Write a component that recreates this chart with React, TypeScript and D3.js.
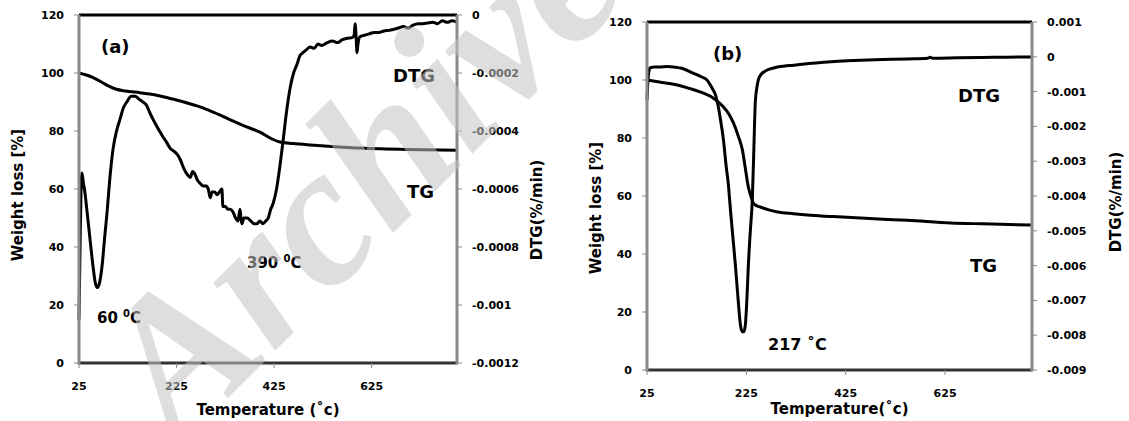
import * as d3 from 'd3';
import React from 'react';

// Temperature axis (shared by both panels)
const xTicks = [25, 225, 425, 625];
const weightTicks = [0, 20, 40, 60, 80, 100, 120];

// Panel (a): DTG right-axis ticks
const dtgTicksA = [0, -0.0002, -0.0004, -0.0006, -0.0008, -0.001, -0.0012];
const dtgTickLabelsA = ['0', '-0.0002', '-0.0004', '-0.0006', '-0.0008', '-0.001', '-0.0012'];

// Panel (b): DTG right-axis ticks
const dtgTicksB = [0.001, 0, -0.001, -0.002, -0.003, -0.004, -0.005, -0.006, -0.007, -0.008, -0.009];
const dtgTickLabelsB = ['0.001', '0', '-0.001', '-0.002', '-0.003', '-0.004', '-0.005', '-0.006', '-0.007', '-0.008', '-0.009'];

// (a) TG curve: [temperature, weight %]
const tgA: [number, number][] = [
  [25, 100], [40, 99.3], [55, 98.3], [70, 97], [82, 95.8], [100, 94.5], [120, 93.8],
  [150, 93.2], [180, 92.5], [210, 91.3], [240, 90], [273, 88.3], [300, 86.5], [330, 84.3],
  [360, 82], [396, 79.6], [420, 77.3], [437, 76.2], [464, 75.7], [500, 75.2], [550, 74.6],
  [601, 74.1], [700, 73.6], [800, 73.4],
];

// (a) DTG curve: [temperature, %/min]
const dtgA: [number, number][] = [
  [25, -0.00105], [27, -0.00082], [29, -0.00062], [31, -0.000545], [34, -0.00058], [37, -0.00061],
  [41, -0.00067], [48, -0.00078], [54, -0.00087], [58, -0.00092], [62, -0.00094], [66, -0.00093],
  [72, -0.00087], [78, -0.00076], [82, -0.00069], [89, -0.00055], [95, -0.00046], [102, -0.0004],
  [109, -0.00036], [116, -0.00032], [123, -0.0003], [132, -0.00028], [140, -0.00028], [148, -0.00029],
  [156, -0.0003], [163, -0.00031], [171, -0.00034], [180, -0.00037], [190, -0.0004], [197, -0.00042],
  [205, -0.00044], [212, -0.00046], [220, -0.00047], [226, -0.00048], [233, -0.0005], [240, -0.00053],
  [247, -0.00055], [253, -0.00056], [258, -0.00054], [263, -0.00055], [268, -0.00057], [273, -0.00058],
  [280, -0.00059], [286, -0.00059], [290, -0.0006], [294, -0.00063], [298, -0.00061], [303, -0.00061],
  [308, -0.00062], [313, -0.00061], [318, -0.0006], [320, -0.00066], [325, -0.00066], [330, -0.00067],
  [335, -0.00067], [341, -0.00068], [346, -0.0007], [351, -0.00071], [355, -0.00067], [357, -0.0007],
  [359, -0.00072], [363, -0.0007], [370, -0.0007], [377, -0.00071], [384, -0.00072], [390, -0.00072],
  [396, -0.00071], [402, -0.00072], [408, -0.00071], [413, -0.0007], [418, -0.00067], [423, -0.00065],
  [430, -0.0006], [437, -0.00052], [443, -0.00044], [450, -0.00034], [458, -0.00025], [465, -0.0002],
  [472, -0.00017], [478, -0.00014], [484, -0.00013], [491, -0.00012], [499, -0.00011], [507, -0.000115],
  [515, -0.0001], [522, -0.000105], [534, -0.000095], [545, -0.00009], [555, -0.000095], [565, -0.000085],
  [575, -0.00008], [585, -0.000078], [589, -0.00007], [591, -0.00003], [593, -0.00007], [595, -0.00013],
  [597, -0.0001], [601, -0.000075], [610, -0.00007], [620, -0.000065], [630, -0.00006], [640, -0.00006],
  [650, -0.000055], [660, -0.000053], [669, -0.00005], [680, -0.000045], [690, -0.00004], [700, -0.000045],
  [710, -0.000035], [720, -0.00003], [730, -0.00003], [739, -0.000028], [750, -0.000025], [760, -0.00003],
  [770, -0.00002], [780, -0.000025], [790, -0.00002], [800, -0.000025],
];

// (b) TG curve
const tgB: [number, number][] = [
  [25, 100], [50, 99.3], [86, 98.3], [110, 97.1], [132, 95.9], [158, 93.8], [170, 92.2],
  [179, 90.7], [190, 88.2], [199, 85.2], [208, 81], [217, 75.9], [223, 69.5], [229, 63.1],
  [234, 60], [239, 57.6], [245, 56.7], [253, 56.2], [270, 55.2], [288, 54.5], [320, 53.9],
  [354, 53.4], [400, 52.9], [455, 52.4], [500, 52], [550, 51.6], [637, 50.7], [700, 50.4], [800, 50],
];

// (b) DTG curve
const dtgB: [number, number][] = [
  [25, -0.00125], [26, -0.0009], [28, -0.0005], [31, -0.00032], [40, -0.00029], [51, -0.00029],
  [65, -0.00028], [78, -0.00029], [95, -0.00033], [118, -0.00047], [135, -0.00058], [146, -0.00067],
  [152, -0.0008], [158, -0.00095], [163, -0.0011], [168, -0.0014], [174, -0.0019], [179, -0.0024],
  [184, -0.0031], [189, -0.0037], [193, -0.0044], [198, -0.0052], [203, -0.006], [208, -0.0069],
  [213, -0.0077], [217, -0.0079], [220, -0.0079], [223, -0.0077], [226, -0.007], [229, -0.006],
  [233, -0.005], [237, -0.0041], [240, -0.0027], [243, -0.0013], [246, -0.0009], [249, -0.00067],
  [255, -0.0005], [262, -0.00042], [267, -0.00038], [280, -0.00032], [300, -0.00027], [320, -0.00024],
  [350, -0.00019], [380, -0.00016], [410, -0.00013], [455, -0.0001], [500, -0.00008], [550, -0.00006],
  [590, -0.00004], [595, -0.00001], [600, -0.00004], [650, -0.00003], [700, -0.00002], [750, -0.00001],
  [800, -0.000005],
];

const tickFont = 'DejaVu Sans, Verdana, sans-serif';

type PanelProps = {
  box: { left: number; top: number; right: number; bottom: number };
  dtgDomain: [number, number];
  dtgTicks: number[];
  dtgLabels: string[];
  tg: [number, number][];
  dtg: [number, number][];
  xTitle: string;
  leftTitleX: number;
  rightTitleX: number;
  titleY: number;
  leftTitleCy: number;
  rightTitleCy: number;
  children?: React.ReactNode;
};

const Panel = ({ box, dtgDomain, dtgTicks, dtgLabels, tg, dtg, xTitle, leftTitleX, rightTitleX, titleY, leftTitleCy, rightTitleCy, children }: PanelProps) => {
  const x = d3.scaleLinear().domain([25, 800]).range([box.left, box.right]);
  const yW = d3.scaleLinear().domain([0, 120]).range([box.bottom, box.top]);
  const yD = d3.scaleLinear().domain(dtgDomain).range([box.bottom, box.top]);

  const tgLine = d3.line<[number, number]>().x((d) => x(d[0])).y((d) => yW(d[1])).curve(d3.curveMonotoneX);
  const dtgLine = d3.line<[number, number]>().x((d) => x(d[0])).y((d) => yD(d[1])).curve(d3.curveMonotoneX);

  const axisGray = '#8a8a8a';

  return (
    <g>
      {/* curves */}
      <path d={tgLine(tg) || ''} fill="none" stroke="#000" strokeWidth={3} strokeLinejoin="round" />
      <path d={dtgLine(dtg) || ''} fill="none" stroke="#000" strokeWidth={3} strokeLinejoin="round" />

      {/* frame */}
      <line x1={box.left} x2={box.right} y1={box.top} y2={box.top} stroke="#000" strokeWidth={3} />
      <line x1={box.left} x2={box.right} y1={box.bottom} y2={box.bottom} stroke="#333" strokeWidth={3} />
      <line x1={box.left} x2={box.left} y1={box.top} y2={box.bottom + 1.5} stroke={axisGray} strokeWidth={3} />
      <line x1={box.right} x2={box.right} y1={box.top} y2={box.bottom + 1.5} stroke={axisGray} strokeWidth={3} />

      {/* left axis */}
      {weightTicks.map((t) => (
        <g key={'w' + t}>
          <line x1={box.left - 5} x2={box.left} y1={yW(t)} y2={yW(t)} stroke={axisGray} strokeWidth={1} />
          <text x={box.left - 15} y={yW(t) + 4} textAnchor="end" fontFamily={tickFont} fontWeight="bold" fontSize={11}>{t}</text>
        </g>
      ))}

      {/* right axis */}
      {dtgTicks.map((t, i) => (
        <g key={'d' + i}>
          <line x1={box.right} x2={box.right + 5} y1={yD(t)} y2={yD(t)} stroke={axisGray} strokeWidth={1} />
          <text x={box.right + 15} y={yD(t) + 4} fontFamily={tickFont} fontWeight="bold" fontSize={11}>{dtgLabels[i]}</text>
        </g>
      ))}

      {/* bottom axis */}
      {xTicks.map((t) => (
        <g key={'x' + t}>
          <line x1={x(t)} x2={x(t)} y1={box.bottom} y2={box.bottom + 5} stroke={axisGray} strokeWidth={1} />
          <text x={x(t)} y={box.bottom + 27} textAnchor="middle" fontFamily={tickFont} fontWeight="bold" fontSize={11}>{t}</text>
        </g>
      ))}

      {/* axis titles */}
      <text x={(box.left + box.right) / 2} y={titleY} textAnchor="middle" fontFamily={tickFont} fontWeight="bold" fontSize={15}>{xTitle}</text>
      <text transform={`translate(${leftTitleX},${leftTitleCy}) rotate(-90)`} textAnchor="middle" fontFamily={tickFont} fontWeight="bold" fontSize={15}>Weight loss [%]</text>
      <text transform={`translate(${rightTitleX},${rightTitleCy}) rotate(-90)`} textAnchor="middle" fontFamily={tickFont} fontWeight="bold" fontSize={15}>DTG(%/min)</text>

      {children}
    </g>
  );
};

const annot = { fontFamily: tickFont, fontWeight: 'bold' as const };

export default function App() {
  return (
    <svg width={1129} height={421} style={{ position: 'absolute', left: 0, top: 0, background: '#fff' }}>
      <Panel
        box={{ left: 79, top: 15, right: 457, bottom: 363 }}
        dtgDomain={[-0.0012, 0]}
        dtgTicks={dtgTicksA}
        dtgLabels={dtgTickLabelsA}
        tg={tgA}
        dtg={dtgA}
        xTitle="Temperature (˚c)"
        leftTitleX={23}
        rightTitleX={542}
        titleY={415}
        leftTitleCy={195}
        rightTitleCy={210}
      >
        <text x={101} y={53} {...annot} fontSize={18}>(a)</text>
        <text x={97} y={323} {...annot} fontSize={15}>
          60 <tspan dy={-6} fontSize={10}>0</tspan><tspan dy={6}>C</tspan>
        </text>
        <text x={247} y={268} {...annot} fontSize={15}>
          390  <tspan dy={-6} fontSize={10}>0</tspan><tspan dy={6}>C</tspan>
        </text>
        <text x={393} y={82} {...annot} fontSize={18}>DTG</text>
        <text x={407} y={198} {...annot} fontSize={18}>TG</text>
      </Panel>

      <Panel
        box={{ left: 647, top: 22, right: 1032, bottom: 370 }}
        dtgDomain={[-0.009, 0.001]}
        dtgTicks={dtgTicksB}
        dtgLabels={dtgTickLabelsB}
        tg={tgB}
        dtg={dtgB}
        xTitle="Temperature(˚c)"
        leftTitleX={601}
        rightTitleX={1121}
        titleY={414}
        leftTitleCy={208}
        rightTitleCy={202}
      >
        <text x={713} y={60} {...annot} fontSize={18}>(b)</text>
        <text x={958} y={102} {...annot} fontSize={18}>DTG</text>
        <text x={970} y={272} {...annot} fontSize={18}>TG</text>
        <text x={768} y={350} {...annot} fontSize={16}>217 ˚C</text>
      </Panel>

      {/* watermark */}
      <text
        transform="translate(178,448) rotate(-45)"
        fontFamily="Liberation Serif, serif"
        fontStyle="italic"
        fontWeight="bold"
        fontSize={200}
        fill="#c4c4c4"
        opacity={0.55}
      >
        Archive
      </text>
    </svg>
  );
}
